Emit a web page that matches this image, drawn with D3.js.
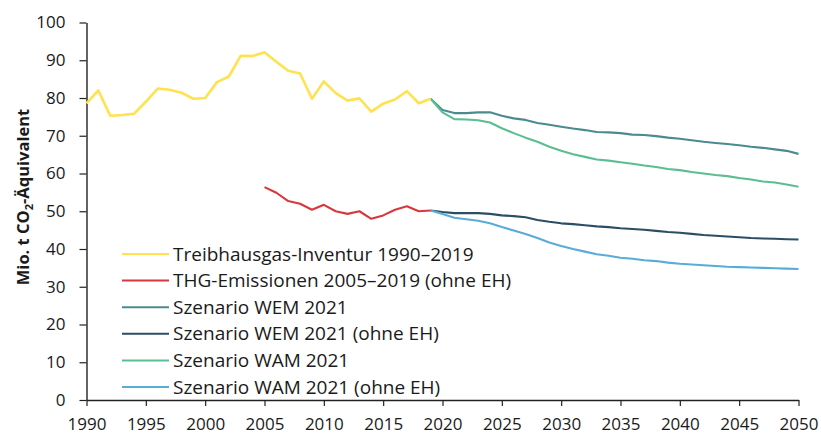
<!DOCTYPE html>
<html>
<head>
<meta charset="utf-8">
<script src="https://cdn.jsdelivr.net/npm/d3@7/dist/d3.min.js"></script>
<style>
  body { margin: 0; background: #fff; }
  svg text { font-family: "Open Sans", sans-serif; fill: #1a1a1a; }
</style>
</head>
<body>
<svg width="821" height="434"></svg>
<script>
// Treibhausgas-Inventur 1990-2019
var invYears = d3.range(1990, 2020);
var invValues = [78.6, 82.0, 75.3, 75.5, 75.8, 79.0, 82.5, 82.2, 81.4, 79.8,
  80.0, 84.2, 85.7, 91.2, 91.1, 92.1, 89.6, 87.2, 86.5, 79.8,
  84.4, 81.3, 79.3, 79.9, 76.4, 78.5, 79.6, 81.8, 78.6, 79.8];

// THG-Emissionen 2005-2019 (ohne EH)
var ehYears = d3.range(2005, 2020);
var ehValues = [56.4, 54.9, 52.7, 52.0, 50.4, 51.7, 50.0, 49.3, 50.0, 48.0,
  48.9, 50.4, 51.3, 50.0, 50.2];

// Szenarien 2019-2050
var scenYears = d3.range(2019, 2051);
var wem = [79.8, 76.8, 76.0, 76.0, 76.2, 76.2, 75.3, 74.6, 74.2, 73.4,
  72.9, 72.4, 71.9, 71.5, 71.0, 70.9, 70.7, 70.3, 70.2, 69.9,
  69.5, 69.2, 68.8, 68.4, 68.1, 67.8, 67.5, 67.1, 66.8, 66.4,
  66.0, 65.2];
var wemOhneEH = [50.2, 49.8, 49.5, 49.5, 49.5, 49.3, 48.9, 48.7, 48.4, 47.7,
  47.2, 46.8, 46.6, 46.3, 46.0, 45.8, 45.5, 45.3, 45.1, 44.8,
  44.5, 44.3, 44.0, 43.7, 43.5, 43.3, 43.1, 42.9, 42.8, 42.7,
  42.6, 42.5];
var wam = [79.8, 76.2, 74.4, 74.3, 74.1, 73.5, 72.0, 70.7, 69.5, 68.4,
  67.1, 66.0, 65.1, 64.4, 63.7, 63.4, 63.0, 62.6, 62.1, 61.7,
  61.2, 60.9, 60.4, 60.0, 59.6, 59.3, 58.8, 58.4, 57.9, 57.6,
  57.1, 56.5];
var wamOhneEH = [50.2, 49.3, 48.3, 47.9, 47.5, 46.8, 45.8, 44.9, 44.0, 42.9,
  41.7, 40.8, 40.0, 39.3, 38.6, 38.2, 37.7, 37.4, 37.0, 36.8,
  36.4, 36.1, 35.9, 35.7, 35.5, 35.3, 35.2, 35.1, 35.0, 34.9,
  34.8, 34.7];

var xTicks = d3.range(1990, 2051, 5);
var yTicks = d3.range(0, 101, 10);

var series = [
  {name: "Treibhausgas-Inventur 1990\u20132019", years: invYears, values: invValues, color: "#ffe24d"},
  {name: "THG-Emissionen 2005\u20132019 (ohne EH)", years: ehYears, values: ehValues, color: "#d8373d"},
  {name: "Szenario WEM 2021", years: scenYears, values: wem, color: "#4b8b90"},
  {name: "Szenario WEM 2021 (ohne EH)", years: scenYears, values: wemOhneEH, color: "#2c4e64"},
  {name: "Szenario WAM 2021", years: scenYears, values: wam, color: "#5bbd92"},
  {name: "Szenario WAM 2021 (ohne EH)", years: scenYears, values: wamOhneEH, color: "#58acd8"}
];

var svg = d3.select("svg");
var x = d3.scaleLinear().domain([1990, 2050]).range([86.5, 798.5]);
var y = d3.scaleLinear().domain([0, 100]).range([400, 22.5]);

var xAxis = svg.append("g")
  .attr("transform", "translate(0," + y(0) + ")")
  .call(d3.axisBottom(x).tickValues(xTicks).tickFormat(d3.format("d")).tickSize(6).tickSizeOuter(0));
xAxis.select(".domain").attr("stroke", "#222").attr("stroke-width", 1.4);
xAxis.selectAll(".tick line").attr("stroke", "#222").attr("stroke-width", 1.2);
xAxis.selectAll("text").attr("font-size", 17).attr("y", 30).attr("dy", 0).attr("fill", "#1a1a1a");

var yAxis = svg.append("g")
  .attr("transform", "translate(" + x(1990) + ",0)")
  .call(d3.axisLeft(y).tickValues(yTicks).tickSize(7).tickSizeOuter(0));
yAxis.select(".domain").attr("stroke", "#222").attr("stroke-width", 1.4);
yAxis.selectAll(".tick line").attr("stroke", "#222").attr("stroke-width", 1.2);
yAxis.selectAll("text").attr("font-size", 17).attr("x", -21).attr("fill", "#1a1a1a");

var yTitle = svg.append("text")
  .attr("transform", "translate(28.5,197) rotate(-90)")
  .attr("text-anchor", "middle")
  .attr("font-size", 16.5)
  .attr("font-weight", "bold");
yTitle.append("tspan").text("Mio. t CO");
yTitle.append("tspan").attr("font-size", 11).attr("dy", 4).text("2");
yTitle.append("tspan").attr("dy", -4).text("-\u00c4quivalent");

var line = d3.line()
  .x(function(d) { return x(d[0]); })
  .y(function(d) { return y(d[1]); });

// draw scenarios first, history on top
[2, 3, 4, 5, 1, 0].forEach(function(i) {
  var s = series[i];
  svg.append("path")
    .datum(d3.zip(s.years, s.values))
    .attr("fill", "none")
    .attr("stroke", s.color)
    .attr("stroke-width", i === 0 ? 2.6 : 2.1)
    .attr("stroke-linejoin", "round")
    .attr("d", line);
});

var legend = svg.append("g").attr("transform", "translate(122,254)");
var rows = legend.selectAll("g").data(series).enter().append("g")
  .attr("transform", function(d, i) { return "translate(0," + (i * 26.6) + ")"; });
rows.append("line")
  .attr("x1", 0).attr("x2", 47)
  .attr("stroke", function(d) { return d.color; })
  .attr("stroke-width", 2);
rows.append("text")
  .attr("x", 51)
  .attr("dy", "0.35em")
  .attr("font-size", 19)
  .text(function(d) { return d.name; });
</script>
</body>
</html>
